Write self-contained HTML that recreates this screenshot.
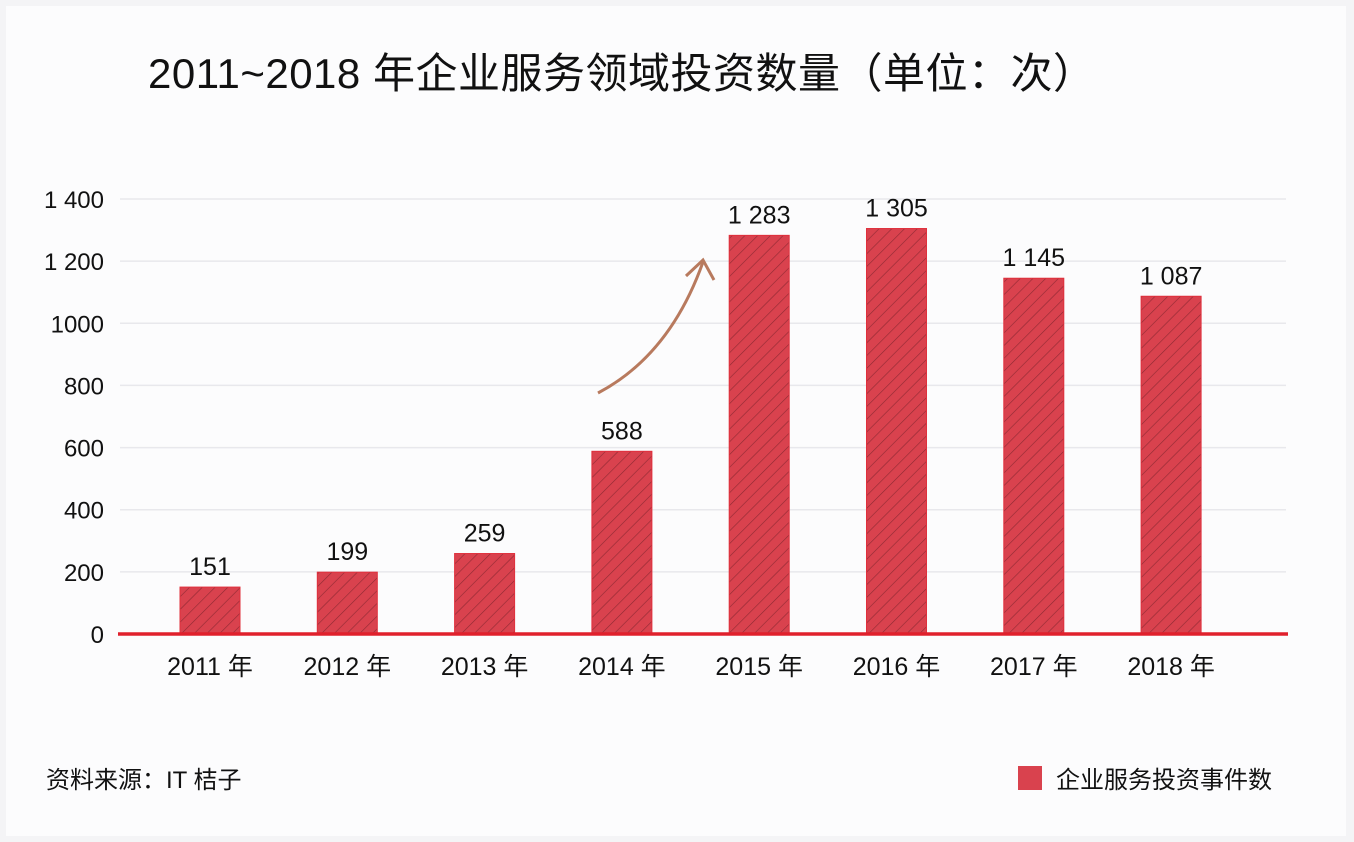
<!DOCTYPE html>
<html><head><meta charset="utf-8"><style>
body{margin:0;background:#f4f4f6;}
svg{display:block;font-family:"Liberation Sans","Noto Sans CJK SC",sans-serif;}
</style></head><body>
<svg id="c" width="1354" height="842" viewBox="0 0 1354 842">
<defs>
<pattern id="hatch" width="9" height="9" patternUnits="userSpaceOnUse" patternTransform="rotate(45)">
<rect width="9" height="9" fill="#d9424e"/>
<line x1="0" y1="0" x2="0" y2="9" stroke="#8e2a33" stroke-width="1.2"/>
</pattern>
</defs>
<rect x="6" y="6" width="1340" height="830" fill="#fcfcfd"/>
<text x="148" y="88" font-size="42" letter-spacing="0.5" fill="#111">2011~2018 年企业服务领域投资数量（单位：次）</text>
<g id="grid"></g>
<g id="bars"></g>
<path d="M598 393 Q670 355 703 262" fill="none" stroke="#b87a5e" stroke-width="3"/>
<path d="M686 276 L703 260 L714 280" fill="none" stroke="#b87a5e" stroke-width="3"/>
<text x="46" y="788" font-size="24" fill="#111">资料来源：IT 桔子</text>
<rect x="1018" y="766" width="24" height="24" fill="#d9424e"/>
<text x="1056" y="788" font-size="24" fill="#111">企业服务投资事件数</text>
</svg>
<script>
const categories=["2011 年","2012 年","2013 年","2014 年","2015 年","2016 年","2017 年","2018 年"];
const values=[151,199,259,588,1283,1305,1145,1087];
const valueLabels=["151","199","259","588","1 283","1 305","1 145","1 087"];
const yTicks=[0,200,400,600,800,1000,1200,1400];
const yTickLabels=["0","200","400","600","800","1000","1 200","1 400"];
const NS="http://www.w3.org/2000/svg";
const y0=634, yTop=199, yMax=1400;
const y=v=>y0-(y0-yTop)*v/yMax;
const x=i=>210+i*137.3;
function mk(t,a,p){const e=document.createElementNS(NS,t);for(const k in a)e.setAttribute(k,a[k]);p.appendChild(e);return e;}
const g=document.getElementById('grid'), b=document.getElementById('bars');
yTicks.forEach((v,i)=>{
 if(v>0){const l=mk('line',{x1:120,x2:1286,y1:y(v),y2:y(v),stroke:'#e8e8ec','stroke-width':1.5},g);
 
 }
 const t=mk('text',{x:104,y:y(v)+9,'font-size':24,'text-anchor':'end',fill:'#111'},g);
 t.textContent=yTickLabels[i];
 
 
});
categories.forEach((c,i)=>{
 const r=mk('rect',{x:x(i)-30,y:y(values[i]),width:60,height:y0-y(values[i]),fill:'url(#hatch)',stroke:'#e0303c','stroke-width':1},b);
 
 
 const vl=mk('text',{x:x(i),y:y(values[i])-12,'font-size':25,'text-anchor':'middle',fill:'#111'},b);
 vl.textContent=valueLabels[i];
 
 
 const xl=mk('text',{x:x(i),y:675,'font-size':25,'text-anchor':'middle',fill:'#111'},b);
 xl.textContent=c;
 
 
});
const ax=mk('line',{x1:118,x2:1288,y1:y0,y2:y0,stroke:'#e0202c','stroke-width':3.5},b);


</script>
</body></html>
